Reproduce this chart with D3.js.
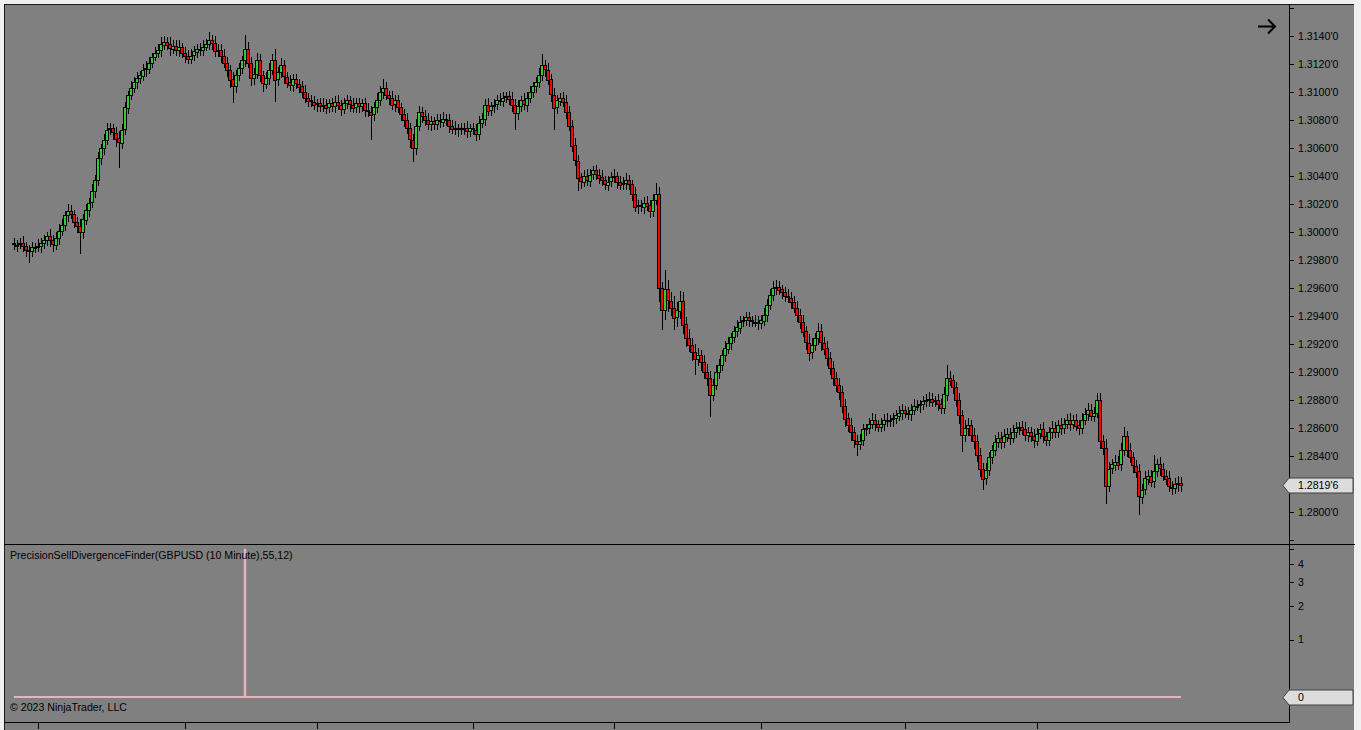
<!DOCTYPE html>
<html>
<head>
<meta charset="utf-8">
<script src="https://cdn.jsdelivr.net/npm/d3@7"></script>
<style>
  html, body { margin: 0; padding: 0; background: #f0f0f0; overflow: hidden; }
  svg { display: block; }
  text { font-family: Arial, "Liberation Sans", sans-serif; font-size: 10.6px; fill: #000; }
</style>
</head>
<body>
<svg id="chart" width="1361" height="730"></svg>
<script>
// GBPUSD 10 minute bars. open of each bar = previous close
const firstOpen = 1.2992;
const closes = [
  1.2991,1.2991,1.2992,1.2990,1.2987,1.2986,1.2989,1.2989,1.2990,1.2992,1.2994,1.2997,1.2994,1.2991,1.2996,1.3001,1.3005,1.3012,1.3015,1.3013,1.3007,1.3004,1.3000,1.3009,1.3016,1.3021,1.3029,1.3037,1.3053,1.3060,
  1.3066,1.3073,1.3074,1.3071,1.3067,1.3064,1.3073,1.3089,1.3098,1.3103,1.3107,1.3110,1.3112,1.3116,1.3117,1.3121,1.3125,1.3128,1.3130,1.3134,1.3136,1.3134,1.3131,1.3133,1.3130,1.3132,1.3128,1.3126,1.3124,1.3126,
  1.3129,1.3131,1.3130,1.3132,1.3134,1.3137,1.3135,1.3129,1.3130,1.3126,1.3121,1.3116,1.3109,1.3104,1.3112,1.3117,1.3123,1.3131,1.3121,1.3110,1.3113,1.3123,1.3112,1.3106,1.3110,1.3116,1.3123,1.3109,1.3114,1.3119,
  1.3111,1.3107,1.3105,1.3109,1.3106,1.3104,1.3100,1.3096,1.3094,1.3093,1.3091,1.3092,1.3090,1.3091,1.3089,1.3092,1.3090,1.3093,1.3091,1.3088,1.3092,1.3094,1.3091,1.3089,1.3092,1.3090,1.3092,1.3087,1.3086,1.3084,
  1.3089,1.3094,1.3100,1.3103,1.3098,1.3096,1.3091,1.3094,1.3089,1.3084,1.3080,1.3074,1.3066,1.3060,1.3076,1.3086,1.3083,1.3080,1.3077,1.3079,1.3077,1.3080,1.3079,1.3081,1.3080,1.3076,1.3074,1.3073,1.3074,1.3073,
  1.3074,1.3072,1.3074,1.3073,1.3070,1.3078,1.3081,1.3091,1.3087,1.3090,1.3091,1.3094,1.3094,1.3096,1.3097,1.3095,1.3091,1.3085,1.3090,1.3094,1.3091,1.3096,1.3100,1.3104,1.3107,1.3112,1.3119,1.3116,1.3109,1.3098,
  1.3089,1.3094,1.3096,1.3093,1.3086,1.3076,1.3062,1.3051,1.3039,1.3036,1.3040,1.3037,1.3041,1.3044,1.3041,1.3039,1.3037,1.3034,1.3036,1.3039,1.3040,1.3036,1.3034,1.3035,1.3037,1.3034,1.3027,1.3018,1.3019,1.3018,
  1.3021,1.3019,1.3015,1.3023,1.3027,1.2960,1.2944,1.2959,1.2951,1.2946,1.2939,1.2944,1.2951,1.2934,1.2924,1.2919,1.2914,1.2909,1.2912,1.2907,1.2900,1.2896,1.2884,1.2891,1.2900,1.2905,1.2912,1.2917,1.2921,1.2925,
  1.2929,1.2932,1.2936,1.2937,1.2939,1.2937,1.2936,1.2936,1.2935,1.2937,1.2941,1.2948,1.2955,1.2960,1.2961,1.2959,1.2957,1.2954,1.2953,1.2950,1.2946,1.2941,1.2936,1.2929,1.2921,1.2914,1.2919,1.2924,1.2929,1.2921,
  1.2917,1.2910,1.2903,1.2896,1.2891,1.2886,1.2876,1.2867,1.2862,1.2857,1.2851,1.2849,1.2851,1.2859,1.2860,1.2863,1.2866,1.2863,1.2861,1.2863,1.2866,1.2865,1.2866,1.2867,1.2869,1.2871,1.2873,1.2871,1.2870,1.2873,
  1.2876,1.2876,1.2877,1.2879,1.2880,1.2881,1.2879,1.2880,1.2877,1.2874,1.2884,1.2896,1.2894,1.2889,1.2880,1.2869,1.2855,1.2860,1.2862,1.2855,1.2851,1.2841,1.2831,1.2824,1.2830,1.2839,1.2844,1.2850,1.2853,1.2850,
  1.2854,1.2856,1.2853,1.2857,1.2860,1.2861,1.2859,1.2855,1.2857,1.2854,1.2851,1.2856,1.2859,1.2854,1.2851,1.2857,1.2860,1.2857,1.2862,1.2860,1.2863,1.2866,1.2863,1.2866,1.2862,1.2860,1.2866,1.2870,1.2873,1.2869,
  1.2871,1.2880,1.2851,1.2846,1.2819,1.2831,1.2834,1.2836,1.2834,1.2844,1.2854,1.2844,1.2839,1.2833,1.2829,1.2811,1.2816,1.2824,1.2826,1.2822,1.2829,1.2834,1.2831,1.2826,1.2824,1.2818,1.2817,1.2820,1.2821,1.28196
];
// wick length above / below the body, in pips
const wickUp = [
  4,3,4,5,3,4,4,3,5,4,4,3,5,4,4,5,4,3,5,4,3,4,5,4,4,3,5,4,4,3,
  4,5,4,3,4,5,4,4,3,5,4,4,3,4,5,4,3,4,4,5,4,3,5,4,4,5,3,4,4,5,
  4,3,4,5,4,6,4,5,4,4,5,4,3,5,4,4,3,10,5,4,4,5,4,3,4,5,4,8,4,5,
  4,3,5,4,4,3,4,5,3,4,4,3,4,5,4,3,4,4,5,3,4,4,3,5,4,4,3,4,5,4,
  4,5,4,6,4,3,5,4,4,3,4,5,4,4,5,4,3,4,5,4,3,4,4,5,3,4,4,5,3,4,
  4,5,3,4,4,5,4,4,5,3,4,4,5,4,3,4,5,4,4,3,5,4,4,3,4,5,8,4,5,4,
  5,4,3,4,5,4,4,5,4,3,4,5,4,3,4,4,5,3,4,4,5,3,4,4,5,4,3,5,4,4,
  4,5,4,4,8,5,4,14,7,6,8,6,7,6,5,7,5,6,5,4,5,6,5,4,5,4,4,5,4,3,
  4,5,4,3,4,4,3,5,4,4,5,4,4,5,5,4,3,4,5,4,4,5,4,5,4,6,5,4,6,5,
  4,5,4,5,4,5,4,5,4,5,4,4,5,4,3,4,5,4,3,4,4,5,3,4,4,5,4,3,4,4,
  5,4,3,4,4,5,4,3,4,4,5,9,5,4,4,5,4,6,5,4,5,4,5,4,5,4,4,5,4,4,
  5,4,4,5,4,3,4,5,4,4,5,4,4,5,3,4,5,4,4,5,4,4,5,3,4,4,5,4,5,4,
  4,5,5,4,6,5,4,5,4,5,7,4,5,4,4,5,4,5,4,4,12,4,5,4,4,5,4,4,5,4
];
const wickDown = [
  4,5,3,4,5,8,4,4,3,5,4,4,5,5,4,5,4,4,5,4,4,5,16,5,4,5,4,5,4,5,
  5,4,4,5,6,18,5,4,5,4,4,5,4,4,5,4,4,3,4,5,4,4,5,4,4,5,4,5,4,4,
  4,5,4,4,3,4,5,4,4,5,4,5,6,12,5,4,4,5,4,6,5,4,5,6,4,5,4,16,5,4,
  5,4,4,5,4,5,4,4,5,4,4,5,4,4,5,4,4,5,4,5,4,4,5,4,4,5,4,5,4,18,
  5,4,4,5,4,5,4,5,4,5,5,4,6,10,5,4,5,4,4,5,4,4,5,4,4,5,4,4,5,4,
  4,5,4,4,5,4,4,5,4,4,5,4,4,5,4,4,5,12,5,4,4,5,4,4,5,4,4,5,4,5,
  16,5,4,4,5,4,5,4,10,5,4,4,5,4,4,5,4,4,5,4,4,5,4,4,5,4,5,4,5,4,
  5,4,5,4,4,10,14,7,8,6,9,7,6,7,6,5,6,11,5,6,5,6,16,5,4,5,4,5,4,5,
  4,4,5,4,4,5,4,4,5,4,4,5,4,4,5,4,5,4,4,5,4,5,5,4,5,6,5,4,5,6,
  5,6,5,6,5,6,5,6,5,6,5,9,5,4,5,4,4,5,4,4,5,4,4,5,4,4,5,4,4,5,
  4,4,5,4,4,5,4,4,5,4,4,5,4,5,5,6,12,5,6,5,6,5,6,8,5,4,5,4,4,5,
  4,4,5,4,4,5,4,4,5,4,5,4,4,5,4,4,5,4,4,5,4,4,5,4,4,5,4,4,5,4,
  5,4,6,5,13,5,4,5,4,5,4,5,4,5,5,13,5,4,5,4,5,4,5,4,5,4,5,4,6,5
];
const priceTicks = [1.2780, 1.2800, 1.2820, 1.2840, 1.2860, 1.2880, 1.2900, 1.2920, 1.2940, 1.2960,
  1.2980, 1.3000, 1.3020, 1.3040, 1.3060, 1.3080, 1.3100, 1.3120, 1.3140, 1.3160];
const priceLabelRange = [1.2790, 1.3150];
const timeTickBars = [8, 57, 101, 153, 200, 249, 297, 341];
// indicator: sell divergence signal, zero everywhere except these bars
const signalBars = [77];
const signalValues = [5];
const signalTicks = [1, 2, 3, 4, 5];
const signalLabels = [1, 2, 3, 4];
const indicatorTitle = 'PrecisionSellDivergenceFinder(GBPUSD (10 Minute),55,12)';
const copyright = '\u00a9 2023 NinjaTrader, LLC';

const frameL = 4, frameT = 4, frameR = 1354, axisX = 1289, splitY = 544, bottomY = 722;
const upColor = '#32cd32', downColor = '#ff0000', sigColor = '#e3b5bf';

const svg = d3.select('#chart');

const x = d3.scaleLinear().domain([0, closes.length - 1]).range([14, 1181]);
const y = d3.scaleLinear().domain([1.2780, 1.3160]).range([540, 8]);
const ySig = d3.scaleSymlog().constant(1).domain([0, 5]).range([697, 548.8]);

const fmtPrice = (p) => {
  const s = p.toFixed(5);
  return s.slice(0, 6) + "'" + s.slice(6);
};

// background panel
svg.append('rect')
  .attr('x', frameL).attr('y', frameT)
  .attr('width', frameR - frameL).attr('height', 730 - frameT)
  .attr('fill', '#808080');

const defs = svg.append('defs');
defs.append('clipPath').attr('id', 'clipMain')
  .append('rect').attr('x', frameL + 1).attr('y', frameT + 1)
  .attr('width', axisX - frameL - 1).attr('height', splitY - frameT - 1);
defs.append('clipPath').attr('id', 'clipSig')
  .append('rect').attr('x', frameL + 1).attr('y', splitY + 1)
  .attr('width', axisX - frameL - 1).attr('height', bottomY - splitY - 1);

// bars
const bars = closes.map((c, i) => {
  const o = i === 0 ? firstOpen : closes[i - 1];
  return {
    i, o, c,
    h: Math.max(o, c) + wickUp[i] / 10000,
    l: Math.min(o, c) - wickDown[i] / 10000
  };
});

const main = svg.append('g').attr('clip-path', 'url(#clipMain)');

main.selectAll('.wick')
  .data(bars)
  .enter()
  .append('line')
  .attr('class', 'wick')
  .attr('x1', (d) => Math.round(x(d.i)) + 0.5)
  .attr('x2', (d) => Math.round(x(d.i)) + 0.5)
  .attr('y1', (d) => Math.round(y(d.h)))
  .attr('y2', (d) => Math.round(y(d.l)))
  .style('stroke', '#000')
  .style('stroke-width', 1);

// body: 4px outer, 2px colour inside, neighbours share an outline column
main.selectAll('.body')
  .data(bars)
  .enter()
  .append('rect')
  .attr('class', 'body')
  .attr('x', (d) => Math.round(x(d.i)) - 1.5)
  .attr('y', (d) => Math.round(y(Math.max(d.o, d.c))) + 0.5)
  .attr('width', 3)
  .attr('height', (d) => Math.max(1, Math.round(Math.abs(y(d.o) - y(d.c)))))
  .style('fill', (d) => (d.c >= d.o ? upColor : downColor))
  .style('stroke', '#000')
  .style('stroke-width', 1);

// indicator panel
const sig = svg.append('g').attr('clip-path', 'url(#clipSig)');
sig.append('line')
  .attr('x1', x(0)).attr('x2', x(closes.length - 1))
  .attr('y1', ySig(0)).attr('y2', ySig(0))
  .style('stroke', sigColor).style('stroke-width', 2);
sig.selectAll('.spike')
  .data(signalBars)
  .enter()
  .append('line')
  .attr('class', 'spike')
  .attr('x1', (d) => x(d)).attr('x2', (d) => x(d))
  .attr('y1', ySig(0))
  .attr('y2', (d, k) => ySig(signalValues[k]))
  .style('stroke', sigColor).style('stroke-width', 2.5);

// frame lines
svg.append('line').attr('x1', frameL + 0.5).attr('x2', frameL + 0.5).attr('y1', frameT).attr('y2', 730)
  .style('stroke', '#1a1a1a');
svg.append('line').attr('x1', frameL).attr('x2', frameR).attr('y1', frameT + 0.5).attr('y2', frameT + 0.5)
  .style('stroke', '#1a1a1a');
svg.append('line').attr('x1', frameL).attr('x2', frameR + 1).attr('y1', splitY + 0.5).attr('y2', splitY + 0.5)
  .style('stroke', '#000');
svg.append('line').attr('x1', axisX + 0.5).attr('x2', axisX + 0.5).attr('y1', frameT).attr('y2', bottomY + 1)
  .style('stroke', '#000');
svg.append('line').attr('x1', frameL).attr('x2', axisX + 1).attr('y1', bottomY + 0.5).attr('y2', bottomY + 0.5)
  .style('stroke', '#000');

// time axis ticks (labels fall below the window)
svg.selectAll('.ttick')
  .data(timeTickBars)
  .enter()
  .append('line')
  .attr('class', 'ttick')
  .attr('x1', (d) => Math.round(x(d)) + 0.5).attr('x2', (d) => Math.round(x(d)) + 0.5)
  .attr('y1', bottomY).attr('y2', bottomY + 7)
  .style('stroke', '#000');

// price axis
const pAxis = svg.append('g');
pAxis.selectAll('.ptick')
  .data(priceTicks)
  .enter()
  .append('line')
  .attr('class', 'ptick')
  .attr('x1', axisX).attr('x2', axisX + 5)
  .attr('y1', (d) => Math.round(y(d)) + 0.5).attr('y2', (d) => Math.round(y(d)) + 0.5)
  .style('stroke', '#000');
pAxis.selectAll('.plabel')
  .data(priceTicks.filter((d) => d > priceLabelRange[0] && d < priceLabelRange[1]))
  .enter()
  .append('text')
  .attr('class', 'plabel')
  .attr('x', axisX + 9)
  .attr('y', (d) => y(d))
  .attr('dy', '0.36em')
  .text((d) => fmtPrice(d));

// indicator axis
const sAxis = svg.append('g');
sAxis.selectAll('.stick')
  .data(signalTicks)
  .enter()
  .append('line')
  .attr('class', 'stick')
  .attr('x1', axisX).attr('x2', axisX + 5)
  .attr('y1', (d) => Math.round(ySig(d)) + 0.5).attr('y2', (d) => Math.round(ySig(d)) + 0.5)
  .style('stroke', '#000');
sAxis.selectAll('.slabel')
  .data(signalLabels)
  .enter()
  .append('text')
  .attr('class', 'slabel')
  .attr('x', axisX + 9)
  .attr('y', (d) => ySig(d))
  .attr('dy', '0.36em')
  .text((d) => d);

// value markers on the axis
function marker(cy, label) {
  const g = svg.append('g');
  const hh = 7.5;
  g.append('path')
    .attr('d', `M${axisX - 6},${cy} L${axisX},${cy - hh} L${frameR - 1},${cy - hh} L${frameR - 1},${cy + hh} L${axisX},${cy + hh} Z`)
    .style('fill', '#dcdcdc')
    .style('stroke', '#404040')
    .style('stroke-width', 1);
  g.append('text')
    .attr('x', axisX + 9)
    .attr('y', cy)
    .attr('dy', '0.36em')
    .text(label);
}
marker(Math.round(y(closes[closes.length - 1])) + 0.5, fmtPrice(closes[closes.length - 1]));
marker(Math.round(ySig(0)) + 0.5, '0');

// titles
svg.append('text').attr('x', 10).attr('y', 559).text(indicatorTitle);
svg.append('text').attr('x', 10).attr('y', 711).text(copyright);

// arrow top right
svg.append('path')
  .attr('d', 'M1258,26.5 H1275 M1268,19.5 L1275,26.5 L1268,33.5')
  .style('fill', 'none')
  .style('stroke', '#000')
  .style('stroke-width', 2);
</script>
</body>
</html>
